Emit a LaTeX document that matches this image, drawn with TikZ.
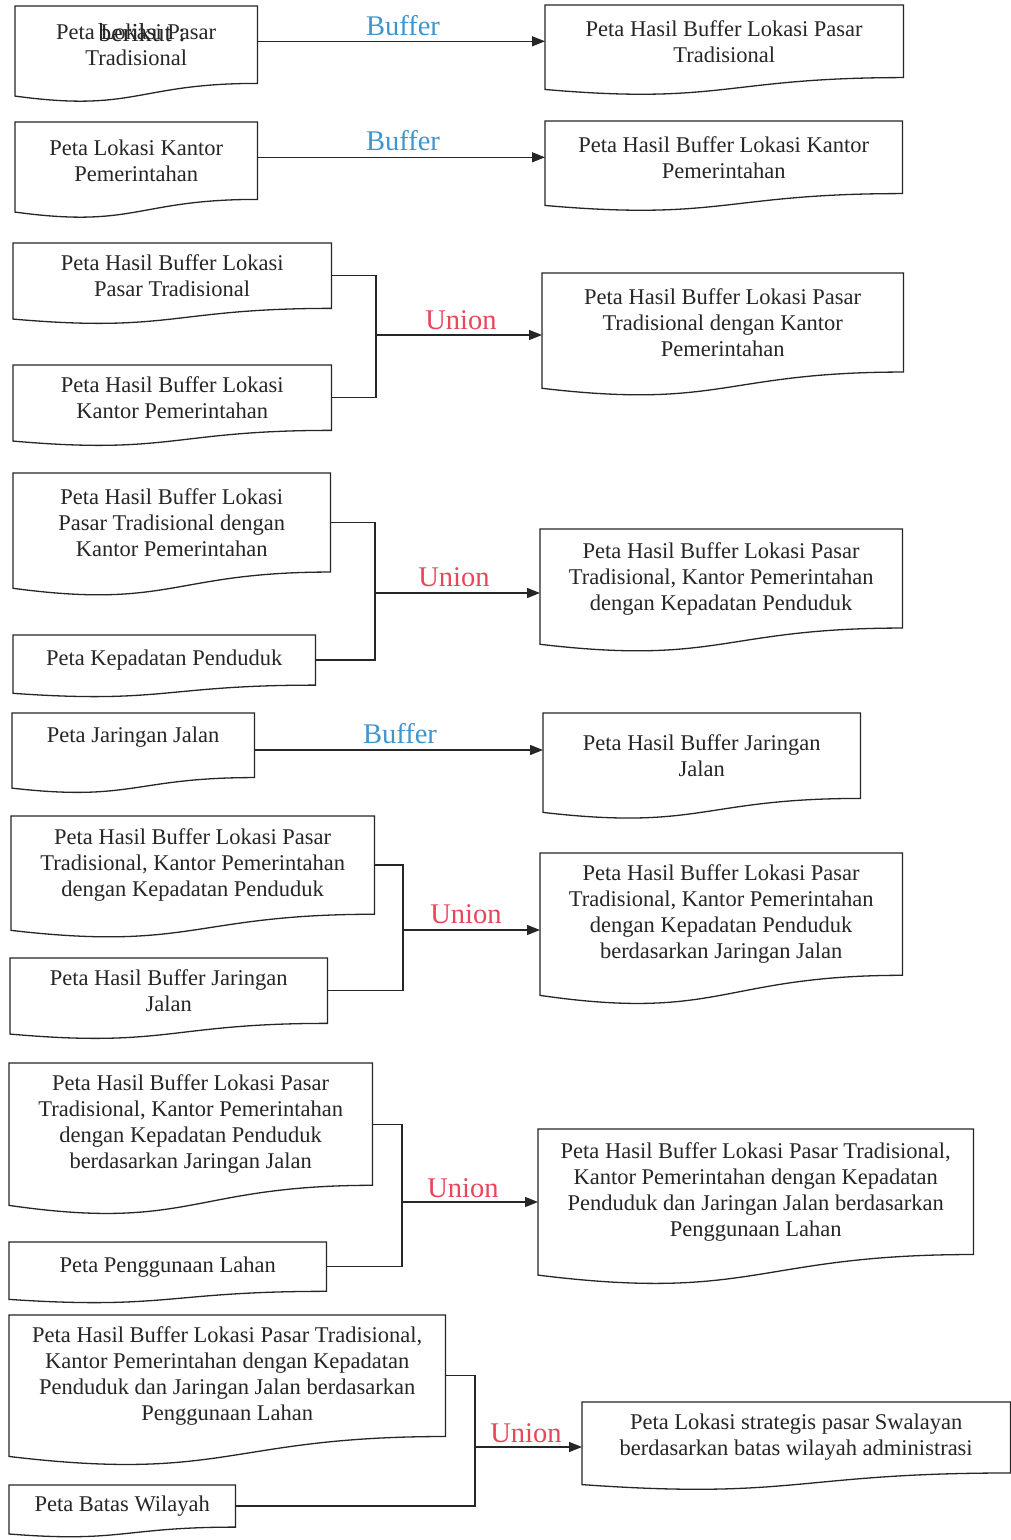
\documentclass[tikz,border=0pt]{standalone}
\usepackage{fontspec}
\setmainfont{Liberation Serif}
\usetikzlibrary{arrows.meta,calc}

\definecolor{ink}{HTML}{262626}
\definecolor{bufblue}{HTML}{3E95D0}
\definecolor{unired}{HTML}{E8465A}

\tikzset{
  doctext/.style={font=\fontsize{22.5}{26}\selectfont, align=center,
    inner sep=0pt, text=ink},
  docline/.style={draw=ink, line width=1.3pt, line join=miter},
  flow/.style={draw=ink, line width=1.3pt, -{Triangle[length=13pt,width=10pt]}},
  joinline/.style={draw=ink, line width=1.3pt},
  oplabel/.style={font=\fontsize{28.5}{30}\selectfont, anchor=base},
  buflabel/.style={oplabel, text=bufblue},
  unilabel/.style={oplabel, text=unired}
}

% document symbol: rectangle with a wavy bottom edge
% #1 extra node options, #2 name, #3 x, #4 top y, #5 width, #6 full height
\newcommand{\docbox}[7][]{%
  \node[doctext, minimum width=#5pt, minimum height={0.802*#6pt},
        anchor=north west, #1] (#2) at (#3,#4) {#7};
  \draw[docline] (#2.north west) -- (#2.north east) -- (#2.south east)
    .. controls (#2.south) and ($(#2.south)+(0,{0.305*#6})$)
    .. ($(#2.south west)+(0,{0.132*#6})$) -- cycle;
}

\begin{document}
\begin{tikzpicture}[x=1pt,y=-1pt]
\fill[white] (0,0) rectangle (1011,1540);
\useasboundingbox (0,0) rectangle (1011,1540);

% --- buffer: pasar tradisional
\docbox{a1}{15}{6}{242}{96}{Peta Lokasi Pasar\\Tradisional}
\node[font=\fontsize{26}{28}\selectfont, anchor=base, text=ink] (over) at (142,41) {berikut :};
\docbox{b1}{545}{5}{358}{90}{Peta Hasil Buffer Lokasi Pasar\\Tradisional}
\draw[flow] (b1.west -| a1.east) -- (b1.west);
\node[buflabel] (lb1) at (403,35) {Buffer};

% --- buffer: kantor pemerintahan
\docbox{a2}{15}{122}{242}{96}{Peta Lokasi Kantor\\Pemerintahan}
\docbox{b2}{545}{121}{357}{90}{Peta Hasil Buffer Lokasi Kantor\\Pemerintahan}
\draw[flow] (b2.west -| a2.east) -- (b2.west);
\node[buflabel] (lb2) at (403,150) {Buffer};

% --- union 1
\docbox{c1}{13}{243}{318}{81}{Peta Hasil Buffer Lokasi\\Pasar Tradisional}
\docbox{c2}{13}{365}{318}{81}{Peta Hasil Buffer Lokasi\\Kantor Pemerintahan}
\docbox{c3}{542}{273}{361}{123}{Peta Hasil Buffer Lokasi Pasar\\Tradisional dengan Kantor\\Pemerintahan}
\coordinate (jc) at (376,335);
\draw[joinline] (c1.east) -- (c1.east -| jc) -- (c2.east -| jc) -- (c2.east);
\draw[flow] (jc) -- (jc -| c3.west);
\node[unilabel] (lu1) at (461,329) {Union};

% --- union 2
\docbox{d1}{13}{473}{317}{123}{Peta Hasil Buffer Lokasi\\Pasar Tradisional dengan\\Kantor Pemerintahan}
\docbox{d2}{13}{635}{302}{62}{Peta Kepadatan Penduduk}
\docbox{d3}{540}{529}{362}{123}{Peta Hasil Buffer Lokasi Pasar\\Tradisional, Kantor Pemerintahan\\dengan Kepadatan Penduduk}
\coordinate (jd) at (375,593);
\draw[joinline] (d1.east) -- (d1.east -| jd) -- (d2.east -| jd) -- (d2.east);
\draw[flow] (jd) -- (jd -| d3.west);
\node[unilabel] (lu2) at (454,586) {Union};

% --- buffer: jaringan jalan
\docbox[text depth=21pt]{e1}{12}{713}{242}{80}{Peta Jaringan Jalan}
\docbox{e2}{543}{713}{317}{106}{Peta Hasil Buffer Jaringan\\Jalan}
\coordinate (je) at (254,750);
\draw[flow] (je) -- (je -| e2.west);
\node[buflabel] (lb3) at (400,743) {Buffer};

% --- union 3
\docbox{f1}{11}{816}{363}{122}{Peta Hasil Buffer Lokasi Pasar\\Tradisional, Kantor Pemerintahan\\dengan Kepadatan Penduduk}
\docbox{f2}{10}{958}{317}{81}{Peta Hasil Buffer Jaringan\\Jalan}
\docbox{f3}{540}{853}{362}{152}{Peta Hasil Buffer Lokasi Pasar\\Tradisional, Kantor Pemerintahan\\dengan Kepadatan Penduduk\\berdasarkan Jaringan Jalan}
\coordinate (jf) at (403,930);
\draw[joinline] (f1.east) -- (f1.east -| jf) -- (f2.east -| jf) -- (f2.east);
\draw[flow] (jf) -- (jf -| f3.west);
\node[unilabel] (lu3) at (466,923) {Union};

% --- union 4
\docbox{g1}{9}{1063}{363}{152}{Peta Hasil Buffer Lokasi Pasar\\Tradisional, Kantor Pemerintahan\\dengan Kepadatan Penduduk\\berdasarkan Jaringan Jalan}
\docbox{g2}{9}{1242}{317}{61}{Peta Penggunaan Lahan}
\docbox{g3}{538}{1129}{435}{156}{Peta Hasil Buffer Lokasi Pasar Tradisional,\\Kantor Pemerintahan dengan Kepadatan\\Penduduk dan Jaringan Jalan berdasarkan\\Penggunaan Lahan}
\coordinate (jg) at (402,1202);
\draw[joinline] (g1.east) -- (g1.east -| jg) -- (g2.east -| jg) -- (g2.east);
\draw[flow] (jg) -- (jg -| g3.west);
\node[unilabel] (lu4) at (463,1197) {Union};

% --- union 5
\docbox{h1}{9}{1315}{436}{151}{Peta Hasil Buffer Lokasi Pasar Tradisional,\\Kantor Pemerintahan dengan Kepadatan\\Penduduk dan Jaringan Jalan berdasarkan\\Penggunaan Lahan}
\docbox{h2}{9}{1485}{226}{52}{Peta Batas Wilayah}
\docbox{h3}{582}{1402}{428}{88}{Peta Lokasi strategis pasar Swalayan\\berdasarkan batas wilayah administrasi}
\coordinate (jh) at (475,1447);
\draw[joinline] (h1.east) -- (h1.east -| jh) -- (h2.east -| jh) -- (h2.east);
\draw[flow] (jh) -- (jh -| h3.west);
\node[unilabel] (lu5) at (526,1442) {Union};
\end{tikzpicture}
\end{document}
